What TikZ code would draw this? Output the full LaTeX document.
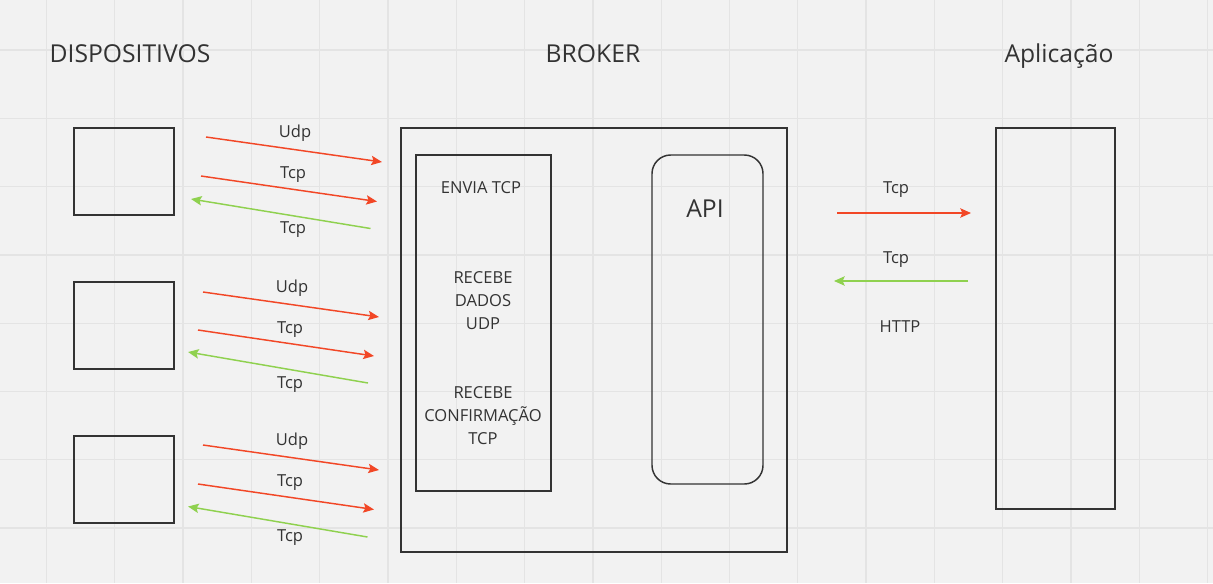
\documentclass[tikz,border=0pt]{standalone}
\usepackage{fontspec}
\setmainfont{Open Sans}
\usetikzlibrary{arrows.meta}
\definecolor{bg}{HTML}{F2F2F2}
\definecolor{gridc}{HTML}{E4E4E4}
\definecolor{ink}{HTML}{333333}
\definecolor{redc}{HTML}{F24726}
\definecolor{greenc}{HTML}{8FD14F}
\tikzset{
  box/.style={draw=ink, line width=1.1pt},
  redarrow/.style={draw=redc, line width=1.1pt, -{Stealth[length=8pt,width=7pt,inset=1.5pt]}},
  greenarrow/.style={draw=greenc, line width=1.1pt, -{Stealth[length=8pt,width=7pt,inset=1.5pt]}},
  lbl/.style={text=ink, font=\fontsize{12.4}{14}\selectfont, inner sep=0pt, anchor=base},
  ttl/.style={text=ink, font=\fontsize{18.5}{22}\selectfont, inner sep=0pt, anchor=base},
  inlbl/.style={text=ink, font=\fontsize{12.4}{17}\selectfont, align=center, inner sep=0pt},
}
\begin{document}
\begin{tikzpicture}[x=0.75pt,y=-0.75pt]
\fill[bg] (0,0) rectangle (1213,583);
\useasboundingbox (0,0) rectangle (1213,583);
% grid
\foreach \k in {0,...,17} \draw[gridc, line width=1pt] ({46.5+68.3*\k},0) -- ({46.5+68.3*\k},583);
\foreach \k in {0,...,7} \draw[gridc, line width=1pt] (0,{50+68.3*\k}) -- (1213,{50+68.3*\k});
% titles
\node[ttl] (tdisp) at (130,62) {DISPOSITIVOS};
\node[ttl] (tbroker) at (593,62) {BROKER};
\node[ttl] (tapp) at (1059,62) {Aplicação};
% device boxes
\node[box, minimum width=75pt, minimum height=65.25pt, inner sep=0pt] (d1) at (124,171.5) {};
\node[box, minimum width=75pt, minimum height=65.25pt, inner sep=0pt] (d2) at (124,325.5) {};
\node[box, minimum width=75pt, minimum height=65.25pt, inner sep=0pt] (d3) at (124,479.5) {};
% broker
\node[box, minimum width=289.5pt, minimum height=318pt, inner sep=0pt] (broker) at (594,340) {};
\node[box, minimum width=101.25pt, minimum height=252pt, inner sep=0pt] (left) at (483.5,323) {};
\node[box, rounded corners=14pt, minimum width=83.25pt, minimum height=246.75pt, inner sep=0pt] (api) at (707.5,319.5) {};
\node[text=ink, font=\fontsize{18.5}{22}\selectfont, inner sep=0pt, anchor=base] (apit) at (705,217) {API};
\node[lbl] (envia) at (481,193) {ENVIA TCP};
\node[inlbl] (dados) at (483,300.5) {RECEBE\\DADOS\\UDP};
\node[inlbl] (conf) at (483,415.5) {RECEBE\\CONFIRMAÇÃO\\TCP};
% application
\node[box, minimum width=89.25pt, minimum height=285.75pt, inner sep=0pt] (app) at (1055.5,318.5) {};
% group 1 arrows
\coordinate (a1s) at (206,137); \coordinate (a1e) at (382,162);
\coordinate (b1s) at (201,176); \coordinate (b1e) at (377,201.5);
\coordinate (c1s) at (370.5,228.5); \coordinate (c1e) at (191,199);
\draw[redarrow] (a1s) -- (a1e);
\draw[redarrow] (b1s) -- (b1e);
\draw[greenarrow] (c1s) -- (c1e);
\node[lbl] (la1) at (295,137) {Udp};
\node[lbl] (lb1) at (293,178) {Tcp};
\node[lbl] (lc1) at (293,233) {Tcp};
% group 2
\coordinate (a2s) at (203,292); \coordinate (a2e) at (379,317);
\coordinate (b2s) at (198,330); \coordinate (b2e) at (374,356);
\coordinate (c2s) at (368,383); \coordinate (c2e) at (188,352);
\draw[redarrow] (a2s) -- (a2e);
\draw[redarrow] (b2s) -- (b2e);
\draw[greenarrow] (c2s) -- (c2e);
\node[lbl] (la2) at (292,292) {Udp};
\node[lbl] (lb2) at (290,333) {Tcp};
\node[lbl] (lc2) at (290,388) {Tcp};
% group 3
\coordinate (a3s) at (203,445); \coordinate (a3e) at (379,470);
\coordinate (b3s) at (198,484); \coordinate (b3e) at (374,509.5);
\coordinate (c3s) at (367.5,537); \coordinate (c3e) at (188,506.5);
\draw[redarrow] (a3s) -- (a3e);
\draw[redarrow] (b3s) -- (b3e);
\draw[greenarrow] (c3s) -- (c3e);
\node[lbl] (la3) at (292,445) {Udp};
\node[lbl] (lb3) at (290,486) {Tcp};
\node[lbl] (lc3) at (290,541) {Tcp};
% right arrows
\coordinate (rs) at (837,213); \coordinate (re) at (971,213);
\coordinate (gs) at (968,281); \coordinate (ge) at (834,281);
\draw[redarrow] (rs) -- (re);
\draw[greenarrow] (gs) -- (ge);
\node[lbl] (lr) at (896,193) {Tcp};
\node[lbl] (lg) at (896,263) {Tcp};
\node[lbl] (lh) at (900,332) {HTTP};
\end{tikzpicture}
\end{document}
